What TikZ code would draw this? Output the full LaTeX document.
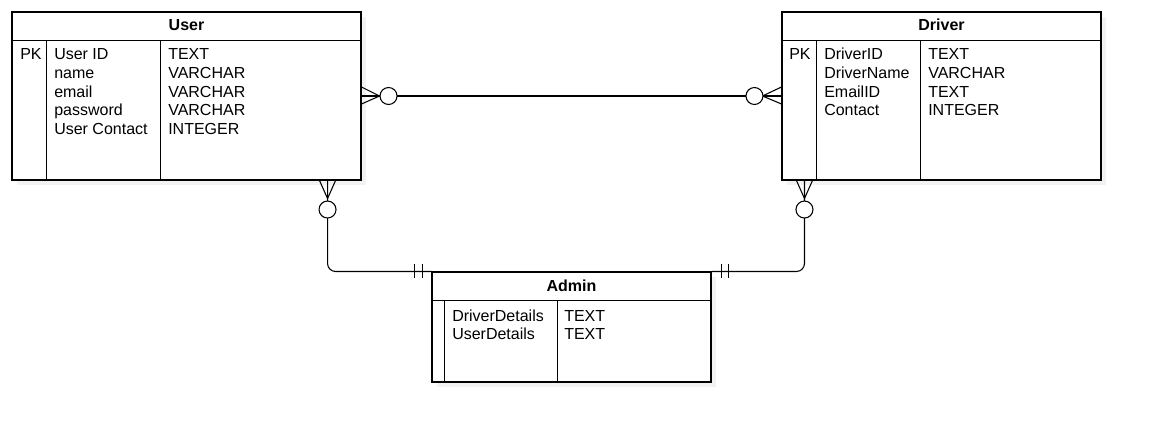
\documentclass[tikz,border=0pt]{standalone}
\usepackage{fontspec}
\setmainfont{Liberation Sans}
\usetikzlibrary{calc,shadows,positioning}

\tikzset{
  entity/.style={draw, line width=0.8pt, fill=white, inner sep=0pt,
    drop shadow={shadow xshift=3.5pt, shadow yshift=-3.5pt, fill=black!5, opacity=1}},
  title/.style={font=\fontsize{12}{14}\selectfont\bfseries, anchor=base, inner sep=0pt},
  field/.style={font=\fontsize{12}{14}\selectfont, anchor=base west, inner sep=0pt},
  rel/.style={line width=0.8pt},
  ring/.style={draw, circle, fill=white, line width=0.8pt, minimum size=12.75pt, inner sep=0pt},
}

\begin{document}
\begin{tikzpicture}[x=0.75pt, y=-0.75pt]

        \useasboundingbox (0,0) rectangle (1151,432);

        % User table
        \node (user) [entity, minimum width=261.75pt, minimum height=126pt] at (186.5,96) {};
        \node (usertitle) [title] at (186.5,31) {User};
        \draw[line width=0.8pt] ($(user.north west)+(0,29)$) -- ($(user.north east)+(0,29)$);
        \draw[line width=0.8pt] ($(user.north west)+(35,29)$) -- ($(user.south west)+(35,0)$);
        \draw[line width=0.8pt] ($(user.north west)+(149,29)$) -- ($(user.south west)+(149,0)$);
        \node (userpk) [field] at (20,59.5) {PK};
        \foreach \fname/\ftype [count=\i] in {User ID/TEXT, name/VARCHAR,
            email/VARCHAR, password/VARCHAR, User Contact/INTEGER} {
          \node (ufield\i) [field] at (54,40.75+18.75*\i) {\fname};
          \node (utype\i) [field] at (168,40.75+18.75*\i) {\ftype};
        }

        % Driver table
        \node (driver) [entity, minimum width=239.25pt, minimum height=126pt] at (941.5,96) {};
        \node (drivertitle) [title] at (941.5,31) {Driver};
        \draw[line width=0.8pt] ($(driver.north west)+(0,29)$) -- ($(driver.north east)+(0,29)$);
        \draw[line width=0.8pt] ($(driver.north west)+(35,29)$) -- ($(driver.south west)+(35,0)$);
        \draw[line width=0.8pt] ($(driver.north west)+(139,29)$) -- ($(driver.south west)+(139,0)$);
        \node (driverpk) [field] at (789,59.5) {PK};
        \foreach \fname/\ftype [count=\i] in {DriverID/TEXT, DriverName/VARCHAR,
            EmailID/TEXT, Contact/INTEGER} {
          \node (dfield\i) [field] at (824,40.75+18.75*\i) {\fname};
          \node (dtype\i) [field] at (928,40.75+18.75*\i) {\ftype};
        }

        % Admin table
        \node (admin) [entity, minimum width=209.25pt, minimum height=82.5pt] at (571.5,327) {};
        \node (admintitle) [title] at (571.5,291) {Admin};
        \draw[line width=0.8pt] ($(admin.north west)+(0,29)$) -- ($(admin.north east)+(0,29)$);
        \draw[line width=0.8pt] ($(admin.north west)+(13,29)$) -- ($(admin.south west)+(13,0)$);
        \draw[line width=0.8pt] ($(admin.north west)+(126,29)$) -- ($(admin.south west)+(126,0)$);
        \foreach \fname/\ftype [count=\i] in {DriverDetails/TEXT, UserDetails/TEXT} {
          \node (afield\i) [field] at (452,302.25+18.75*\i) {\fname};
          \node (atype\i) [field] at (564,302.25+18.75*\i) {\ftype};
        }

        % User -- Driver, zero or many at both ends
        \draw[rel] (user.east) -- (driver.west);
        \coordinate (ufoot) at ($(user.east)+(18,0)$);
        \draw[rel] ($(user.east)+(0,-9)$) -- (ufoot) -- ($(user.east)+(0,8)$);
        \node (uring) [ring] at ($(user.east)+(27,0)$) {};
        \coordinate (dfoot) at ($(driver.west)+(-19,0)$);
        \draw[rel] ($(driver.west)+(0,-9)$) -- (dfoot) -- ($(driver.west)+(0,8)$);
        \node (dring) [ring] at ($(driver.west)+(-27,0)$) {};

        % User -- Admin
        \coordinate (ubot) at ($(user.south east)+(-34,0)$);
        \draw[rel, rounded corners=6pt] (ubot) |- (admin.north west);
        \draw[rel] ($(ubot)+(-8,0)$) -- ($(ubot)+(0,18)$) -- ($(ubot)+(8,0)$);
        \node (ubring) [ring] at ($(ubot)+(0,29)$) {};
        \draw[rel] ($(admin.north west)+(-17,-7)$) -- ($(admin.north west)+(-17,7)$);
        \draw[rel] ($(admin.north west)+(-9,-7)$) -- ($(admin.north west)+(-9,7)$);

        % Driver -- Admin
        \coordinate (dbot) at ($(driver.south west)+(23,0)$);
        \draw[rel, rounded corners=6pt] (dbot) |- (admin.north east);
        \draw[rel] ($(dbot)+(-8,0)$) -- ($(dbot)+(0,18)$) -- ($(dbot)+(8,0)$);
        \node (dbring) [ring] at ($(dbot)+(0,29)$) {};
        \draw[rel] ($(admin.north east)+(10,-7)$) -- ($(admin.north east)+(10,7)$);
        \draw[rel] ($(admin.north east)+(17,-7)$) -- ($(admin.north east)+(17,7)$);
\end{tikzpicture}
\end{document}
